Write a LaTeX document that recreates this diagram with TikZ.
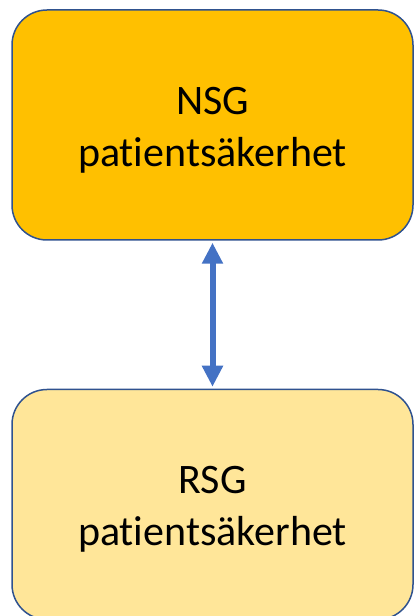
\documentclass[tikz,border=0pt]{standalone}
\usepackage{fontspec}
\setmainfont[Ligatures={NoCommon}]{Carlito}
\usepackage{xcolor}
\usetikzlibrary{arrows.meta,positioning}

\definecolor{boxline}{HTML}{2F528F}
\definecolor{nsgfill}{HTML}{FFC000}
\definecolor{rsgfill}{HTML}{FFE699}
\definecolor{arrowblue}{HTML}{4472C4}

\begin{document}
\begin{tikzpicture}[
  node distance=148pt,
  group/.style={draw=boxline, line width=1.5pt, rounded corners=35pt,
    minimum width=401pt, minimum height=230pt},
  grouptext/.style={align=center, font=\fontsize{42}{52}\selectfont},
  link/.style={{Triangle[width=20pt,length=21pt]}-{Triangle[width=20pt,length=21pt]},
    arrowblue, line width=6pt, shorten <=2pt, shorten >=2pt}
]
\useasboundingbox (0,0) rectangle (414pt,616pt);
\node[group, fill=nsgfill] (nsg) at (212.5pt,491pt) {};
\node[group, fill=rsgfill, below=of nsg] (rsg) {};
\node[grouptext] (nsgtext) at ([yshift=-5pt]nsg.center) {NSG\\patientsäkerhet};
\node[grouptext] (rsgtext) at ([yshift=-5pt]rsg.center) {RSG\\patientsäkerhet};
\draw[link] (nsg) -- (rsg);
\end{tikzpicture}
\end{document}
